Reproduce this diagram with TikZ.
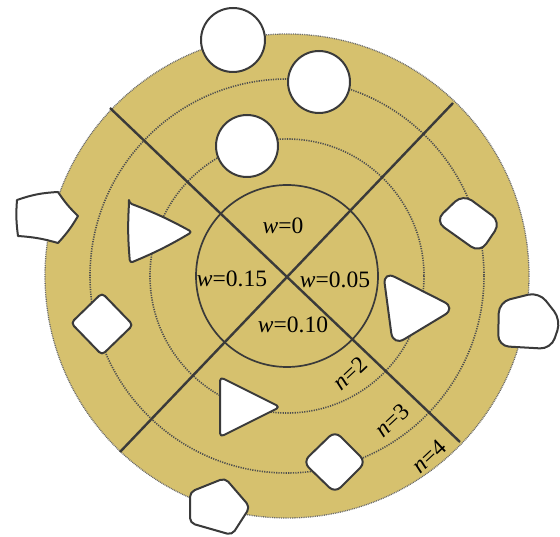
\documentclass[tikz,border=0pt]{standalone}
\usepackage{fontspec}
\setmainfont{Liberation Serif}
\definecolor{disc}{RGB}{214,193,110}
\definecolor{ink}{RGB}{58,58,58}
\tikzset{
  ring/.style={draw=ink!90, line width=1.6pt, dash pattern=on 1.2pt off 1.2pt},
  rim/.style={draw=ink!75, line width=1.3pt, dash pattern=on 0.9pt off 0.9pt},
  divider/.style={draw=ink, line width=2.4pt},
  inner/.style={draw=ink, line width=1.7pt},
  obj/.style={draw=ink, fill=white, line width=2pt, line join=round},
  lab/.style={font=\fontsize{23.5}{25}\selectfont, inner sep=0pt},
}
\begin{document}
\begin{tikzpicture}[x=1pt,y=-1pt]
\useasboundingbox (0,0) rectangle (560,537);
\coordinate (C) at (287,276);
% disc and rings
\fill[disc] (C) circle (242);
\draw[rim] (C) circle (242);
\draw[ring] (C) circle (197);
\draw[ring] (C) circle (137);
\draw[inner] (C) circle (91);
% dividers
\coordinate (a1) at (110,108);
\coordinate (a2) at (460,442);
\coordinate (b1) at (453,103);
\coordinate (b2) at (120,452);
\draw[divider] (a1) -- (a2);
\draw[divider] (b1) -- (b2);
% labels
\node[lab] (w0) at (283,226) {\textit{w}=0};
\node[lab] (w15) at (232,279) {\textit{w}=0.15};
\node[lab] (w05) at (335,280) {\textit{w}=0.05};
\node[lab] (w10) at (293,325) {\textit{w}=0.10};
\node[lab, rotate=43] (n2) at (350,373) {\textit{n}=2};
\node[lab, rotate=43] (n3) at (392,420) {\textit{n}=3};
\node[lab, rotate=43] (n4) at (429,456) {\textit{n}=4};
% objects
\draw[obj] (233,40) circle (32);
\draw[obj] (319,82) circle (31);
\draw[obj] (247,146) circle (31);
% wavy pentagon left
\draw[obj] (17,200) to[bend left=8] (58,192) to[bend right=6] (78,216)
  to[bend left=6] (58,243) to[bend right=6] (18,236) to[bend left=6] cycle;
% left triangle
\draw[obj, rounded corners=3pt] (129,203) to[bend left=4] (192,232) to[bend left=4] (130,263) to[bend left=4] cycle;
% left diamond
\draw[obj, rounded corners=4pt] (102,293) -- (133,325) -- (102,355) -- (71,323) -- cycle;
% bottom triangle
\draw[obj, rounded corners=4pt] (220,377) -- (280,407) -- (220,437) -- cycle;
% bottom pentagon
\draw[obj, rounded corners=5pt] (225,478) -- (250,507) -- (232,535) -- (190,523) -- (190,492) -- cycle;
% bottom-right diamond
\draw[obj, rounded corners=8pt] (335,431) -- (366,462) -- (335,493) -- (303,462) -- cycle;
% right rounded triangle
\draw[obj, rounded corners=13pt] (383,271) -- (456,308) -- (393,346) -- cycle;
% right outer pentagon
\draw[obj, rounded corners=11pt] (499,302) -- (539,292) -- (561,320) -- (551,349) -- (498,346) -- cycle;
% upper-right rounded diamond
\draw[obj, rounded corners=11pt] (463,194) -- (501,222) -- (480,253) -- (435,221) -- cycle;
\end{tikzpicture}
\end{document}
